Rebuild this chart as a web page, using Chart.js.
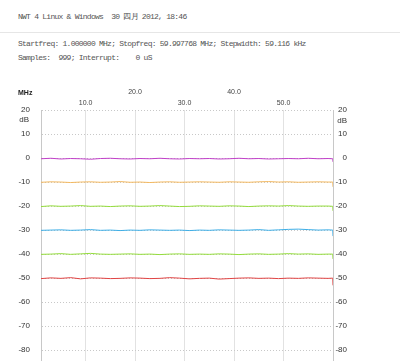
<!DOCTYPE html>
<html>
<head>
<meta charset="utf-8">
<script src="https://cdn.jsdelivr.net/npm/chart.js@4"></script>
<style>
  html, body { margin: 0; padding: 0; background: #fff; overflow: hidden; width: 400px; height: 361px; }
  .hdr { position: absolute; left: 18px; font-family: 'Liberation Mono', monospace; font-size: 8px;
         letter-spacing: -0.75px; color: #555; white-space: pre; line-height: 10px; }
  #rule { position: absolute; left: 0; top: 32px; width: 400px; height: 1px; background: #e6e6e6; }
  #wrap { position: absolute; left: 0; top: 0; width: 400px; height: 390px; }
</style>
</head>
<body>
<div class="hdr" style="top:12px">NWT 4 Linux &amp; Windows  30 四月 2012, 18:46</div>
<div id="rule"></div>
<div class="hdr" style="top:39px">Startfreq: 1.000000 MHz; Stopfreq: 59.997768 MHz; Stepwidth: 59.116 kHz</div>
<div class="hdr" style="top:53px">Samples:  999; Interrupt:    0 uS</div>
<div id="wrap"><canvas id="chart" width="400" height="390"></canvas></div>
<script>
var ctx = document.getElementById('chart').getContext('2d');

// frequency points (MHz)
var freqs = [1, 3, 5, 7, 9, 11, 13, 15, 17, 19, 21, 23, 25, 27, 29, 31, 33, 35, 37, 39,
             41, 43, 45, 47, 49, 51, 53, 55, 57, 59, 59.95, 60];

// traces (dB)
var trace0 = [-0.3, -0.1, -0.4, -0.2, -0.3, -0.5, -0.2, -0.1, -0.3, -0.4, -0.2, -0.3, -0.1, -0.3, -0.4, -0.2,
              -0.3, -0.2, -0.4, -0.3, -0.1, -0.3, -0.2, -0.4, -0.3, -0.2, -0.3, -0.1, -0.3, -0.2, -0.3, -1.6];
var trace10 = [-10.1, -9.9, -10.0, -10.2, -10.0, -9.9, -10.1, -10.0, -9.8, -10.1, -10.0, -10.2, -10.0, -9.9, -10.1, -10.0,
               -9.9, -10.0, -10.1, -9.9, -10.0, -10.1, -9.9, -9.8, -10.0, -9.9, -10.1, -10.0, -9.9, -10.0, -10.0, -12.0];
var trace20 = [-20.2, -19.9, -20.1, -20.0, -19.8, -20.1, -20.0, -20.2, -20.0, -19.9, -20.1, -20.0, -19.8, -20.0, -20.2, -20.1,
               -19.9, -20.0, -20.1, -19.9, -20.0, -20.2, -20.0, -19.9, -20.0, -19.8, -20.0, -20.1, -20.0, -20.0, -20.1, -22.0];
var trace30 = [-30.1, -30.0, -29.9, -30.1, -30.0, -29.8, -30.1, -30.0, -30.2, -30.0, -30.1, -29.9, -30.0, -30.1, -30.0, -30.2,
               -30.0, -30.1, -29.9, -30.0, -30.1, -30.0, -29.8, -30.1, -29.9, -29.7, -29.6, -29.8, -30.0, -29.9, -30.0, -32.5];
var trace40 = [-40.1, -40.0, -39.8, -40.1, -39.9, -39.7, -40.0, -40.1, -40.0, -39.9, -40.1, -40.0, -40.2, -40.0, -39.9, -40.1,
               -40.0, -40.1, -39.9, -40.0, -40.2, -40.0, -39.9, -40.1, -40.0, -39.8, -40.0, -39.9, -40.1, -40.0, -40.0, -42.0];
var trace50 = [-50.2, -49.9, -50.1, -49.8, -50.3, -49.9, -50.0, -50.2, -50.1, -49.9, -50.0, -50.2, -50.1, -49.8, -50.0, -50.3,
               -50.1, -50.0, -50.4, -50.2, -50.0, -49.9, -50.1, -50.0, -50.2, -50.0, -50.1, -49.9, -50.0, -50.1, -50.0, -53.0];

var traceColors = ['#c040c8', '#f2b860', '#94dc3c', '#3eaee6', '#94dc3c', '#e04444'];
var traces = [trace0, trace10, trace20, trace30, trace40, trace50];

// x tick labels, staggered like the original
var xTicks = [10, 20, 30, 40, 50];

function toPoints(arr) {
  return arr.map(function(v, i) { return {x: freqs[i], y: v}; });
}

var datasets = traces.map(function(t, i) {
  return {
    data: toPoints(t),
    borderColor: traceColors[i],
    borderWidth: 1,
    pointRadius: 0,
    tension: 0,
    yAxisID: 'y'
  };
});

// unit labels (MHz / dB)
var unitLabels = {
  id: 'unitLabels',
  afterDraw: function(chart) {
    var c = chart.ctx;
    c.save();
    c.fillStyle = '#222';
    c.font = "bold 7px 'Liberation Sans', sans-serif";
    c.textBaseline = 'middle';
    c.textAlign = 'left';
    c.fillText('MHz', 18, 93);
    c.font = "8px 'Liberation Sans', sans-serif";
    c.fillStyle = '#333';
    c.textAlign = 'right';
    c.fillText('dB', 29, 120);
    c.fillText('dB', 347, 121);
    c.restore();
  }
};

var yTickFont = { family: "'Liberation Sans', sans-serif", size: 8 };

var myChart = new Chart(ctx, {
  type: 'line',
  data: { datasets: datasets },
  plugins: [unitLabels],
  options: {
    responsive: false,
    animation: false,
    events: [],
    layout: { padding: { left: 0, top: 0, bottom: 0, right: 53 } },
    plugins: { legend: { display: false }, tooltip: { enabled: false } },
    scales: {
      x: {
        type: 'linear',
        position: 'top',
        min: 1,
        max: 59.997768,
        afterFit: function(s) { s.height = 110; },
        afterBuildTicks: function(s) { s.ticks = xTicks.map(function(v) { return {value: v}; }); },
        grid: { color: '#e2e2e2', lineWidth: 1, drawTicks: false },
        border: { display: false },
        ticks: {
          padding: 2,
          maxRotation: 0,
          autoSkip: false,
          color: '#444',
          font: { family: "'Liberation Sans', sans-serif", size: 7, lineHeight: 1.5 },
          callback: function(v) {
            return (v % 20 === 0) ? [v.toFixed(1), ''] : v.toFixed(1);
          }
        }
      },
      y: {
        position: 'left',
        min: -90,
        max: 20,
        afterFit: function(s) { s.width = 41; },
        grid: { color: '#c8c8c8', lineWidth: 1, drawTicks: false },
        border: { color: '#c8c8c8', dash: [1, 2] },
        ticks: { stepSize: 10, padding: 11, color: '#333', font: yTickFont }
      },
      y2: {
        position: 'right',
        min: -90,
        max: 20,
        afterFit: function(s) { s.width = 14; },
        grid: { drawOnChartArea: false, drawTicks: false },
        border: { color: '#c8c8c8', dash: [1, 2] },
        ticks: { stepSize: 10, padding: 1, crossAlign: 'far', color: '#333', font: yTickFont }
      }
    }
  }
});
</script>
</body>
</html>
